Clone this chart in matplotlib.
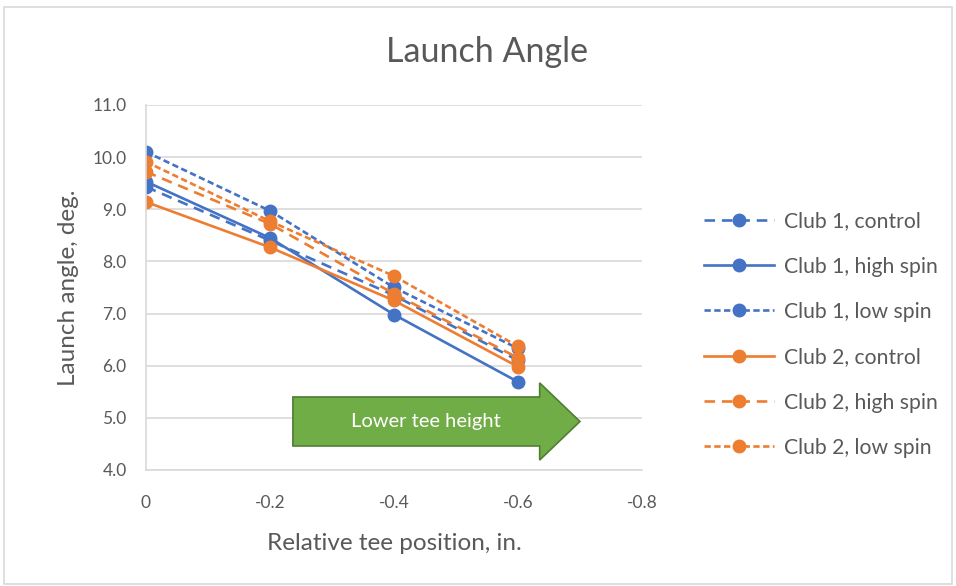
#!/usr/bin/env python3

import matplotlib
matplotlib.use('Agg')
import matplotlib.pyplot as plt
from matplotlib.patches import Polygon, Rectangle

# tee offset (in.) and launch angle (deg.) per club / ball
tee_pos = [0, -0.2, -0.4, -0.6]
club1_control = [9.43, 8.40, 7.35, 6.10]
club1_high = [9.53, 8.45, 6.98, 5.69]
club1_low = [10.10, 8.97, 7.50, 6.33]
club2_control = [9.14, 8.27, 7.25, 5.98]
club2_high = [9.72, 8.72, 7.38, 6.15]
club2_low = [9.91, 8.77, 7.72, 6.37]

y_ticks = [4.0, 5.0, 6.0, 7.0, 8.0, 9.0, 10.0, 11.0]
x_ticks = [0, -0.2, -0.4, -0.6, -0.8]
x_labels = ['0', '-0.2', '-0.4', '-0.6', '-0.8']

blue = '#4472C4'
orange = '#ED7D31'
grey_txt = '#595959'
long_dash = (4, 2.6)
short_dash = (2.4, 1.3)

plt.rcParams['font.family'] = ['Lato', 'DejaVu Sans']

fig = plt.figure(figsize=(9.56, 5.86), dpi=100)
fig.patches.append(Rectangle((0.004, 0.004), 0.992, 0.984, transform=fig.transFigure,
                             fill=False, edgecolor='#D9D9D9', lw=1.2))
ax = fig.add_axes([0.1527, 0.198, 0.5188, 0.6229])

series = [
    ('Club 1, control', club1_control, blue, long_dash),
    ('Club 1, high spin', club1_high, blue, None),
    ('Club 1, low spin', club1_low, blue, short_dash),
    ('Club 2, control', club2_control, orange, None),
    ('Club 2, high spin', club2_high, orange, long_dash),
    ('Club 2, low spin', club2_low, orange, short_dash),
]
for name, vals, col, dash in series:
    line, = ax.plot(tee_pos, vals, color=col, lw=1.9, marker='o', ms=9, label=name)
    if dash is not None:
        line.set_dashes(dash)

ax.set_xlim(0, -0.8)
ax.set_ylim(4.0, 11.0)
ax.set_xticks(x_ticks)
ax.set_xticklabels(x_labels)
ax.set_yticks(y_ticks)
ax.set_yticklabels(['%.1f' % v for v in y_ticks])
ax.tick_params(length=0, labelsize=12.5, labelcolor=grey_txt)
ax.tick_params(axis='x', pad=18)
ax.tick_params(axis='y', pad=14)
ax.grid(axis='y', color='#D9D9D9', lw=1.2)
ax.set_axisbelow(True)
for s in ['top', 'right']:
    ax.spines[s].set_visible(False)
for s in ['left', 'bottom']:
    ax.spines[s].set_color('#D9D9D9')
    ax.spines[s].set_linewidth(1.2)

ax.set_xlabel('Relative tee position, in.', fontsize=17.5, color=grey_txt, labelpad=16)
ax.set_ylabel('Launch angle, deg.', fontsize=17.5, color=grey_txt, labelpad=10)
fig.text(0.509, 0.912, 'Launch Angle', ha='center', va='center', fontsize=24.5, color=grey_txt)

# green arrow pointing toward lower tee
arrow = Polygon([(-0.237, 5.40), (-0.635, 5.40), (-0.635, 5.67), (-0.70, 4.93),
                 (-0.635, 4.19), (-0.635, 4.46), (-0.237, 4.46)],
                closed=True, facecolor='#70AD47', edgecolor='#507E32', lw=1.2,
                clip_on=False, zorder=5)
ax.add_patch(arrow)
ax.text(-0.452, 4.93, 'Lower tee height', ha='center', va='center',
        fontsize=14.5, color='white', zorder=6)

fig.legend(loc='upper left', bbox_to_anchor=(0.717, 0.672), frameon=False,
           fontsize=15.2, labelspacing=1.2, handlelength=3.3, handletextpad=0.45,
           labelcolor=grey_txt)

fig.savefig('out.png', dpi=100)
